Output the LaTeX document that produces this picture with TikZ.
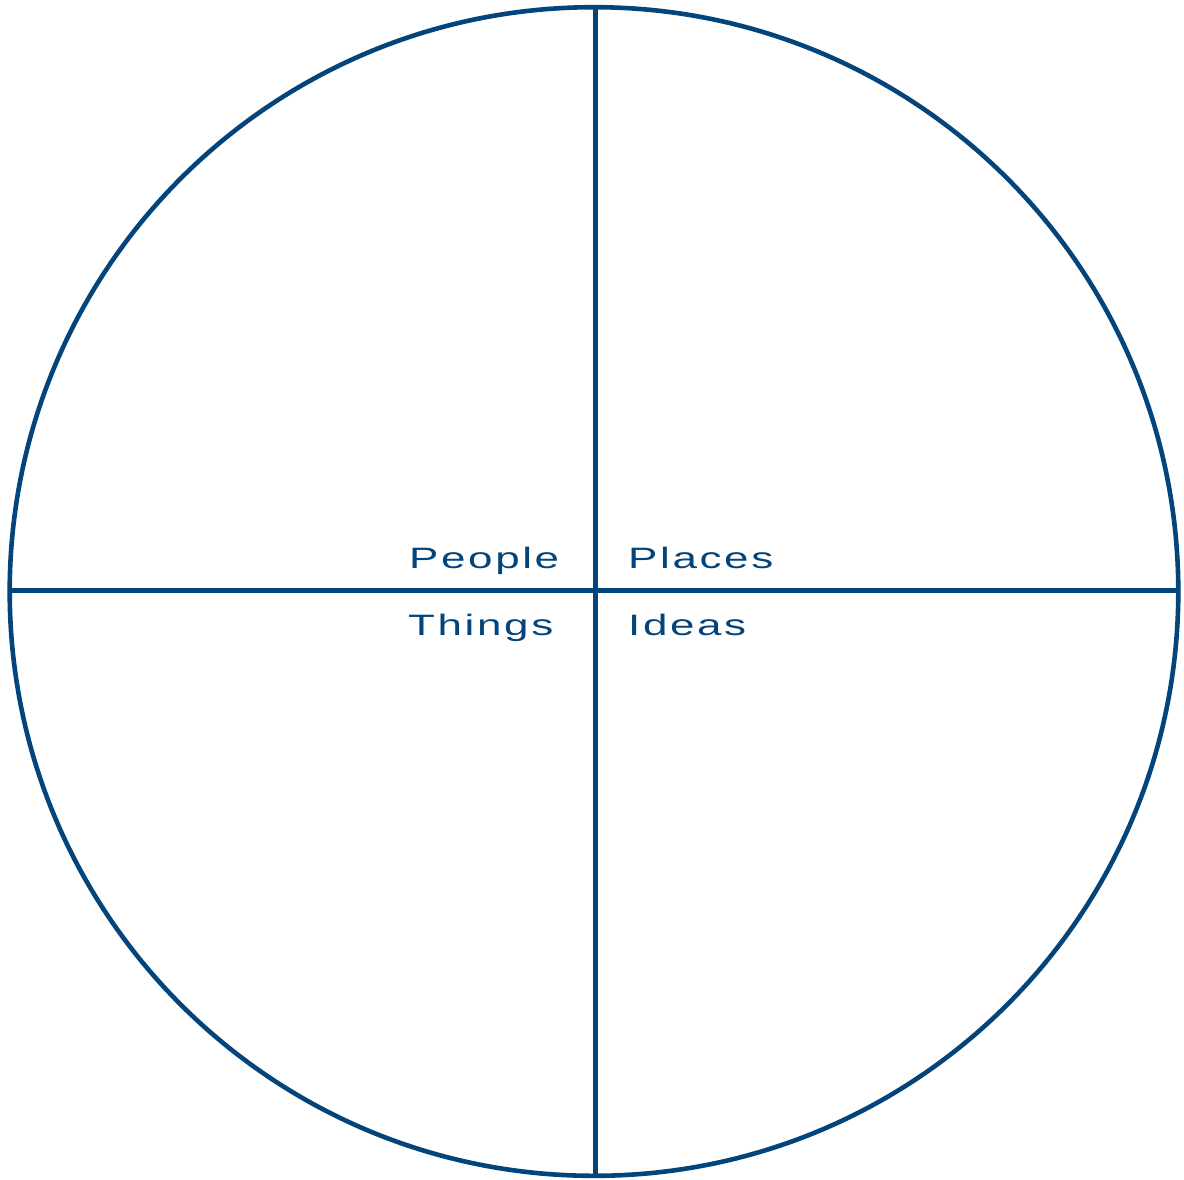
\documentclass[tikz,border=0pt]{standalone}
\usepackage{fontspec}
\usepackage{graphicx}
\setmainfont{Liberation Sans}
\newfontfamily\labfont[LetterSpace=6]{Liberation Sans}
\definecolor{navy}{HTML}{03447A}
\newcommand{\widetxt}[1]{\scalebox{1.49}[1]{#1}}
\begin{document}
\begin{tikzpicture}[x=1pt,y=-1pt,
  ring/.style={draw=navy,line width=4.6pt},
  axis/.style={draw=navy,line width=5pt},
  lab/.style={text=navy,font=\labfont\fontsize{29.5}{34}\selectfont,inner sep=0pt}]
\useasboundingbox (0,0) rectangle (1184,1179);
\coordinate (c) at (594,591.5);
\draw[ring] (c) circle[radius=584.3];
\coordinate (top) at (595,7.5);
\coordinate (bot) at (595,1175.5);
\coordinate (lft) at (9.5,590);
\coordinate (rgt) at (1178.5,590);
\draw[axis] (top) -- (bot);
\draw[axis] (lft) -- (rgt);
\node[lab,anchor=base west] (people) at (409,568) {\widetxt{People}};
\node[lab,anchor=base west] (places) at (628,568) {\widetxt{Places}};
\node[lab,anchor=base west] (things) at (408,635) {\widetxt{Things}};
\node[lab,anchor=base west] (ideas) at (628,635) {\widetxt{Ideas}};
\end{tikzpicture}
\end{document}
